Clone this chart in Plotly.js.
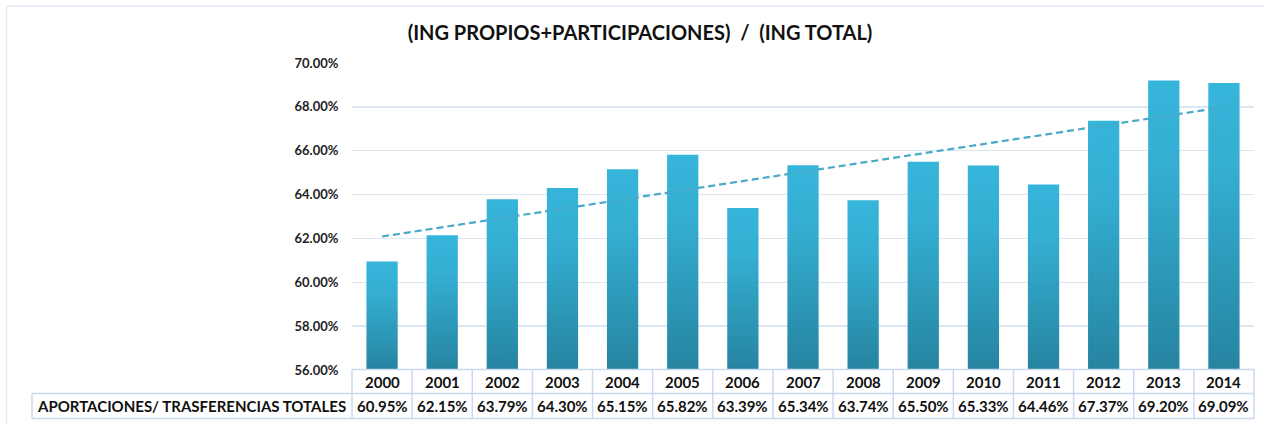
<!DOCTYPE html>
<html>
<head>
<meta charset="utf-8">
<script src="https://cdn.plot.ly/plotly-3.0.1.min.js"></script>
<style>
html,body{margin:0;padding:0;background:#fff;}
#chart{width:1270px;height:424px;}
#chart .barlayer .point path{fill:url(#barGrad) !important;}
</style>
</head>
<body>
<svg width="0" height="0" style="position:absolute;width:0;height:0">
  <defs>
    <linearGradient id="barGrad" x1="0" y1="0" x2="0" y2="1">
      <stop offset="0" stop-color="#36b5da"/>
      <stop offset="0.3" stop-color="#34aed2"/>
      <stop offset="1" stop-color="#2684a0"/>
    </linearGradient>
  </defs>
</svg>
<div id="chart"></div>
<script>
// ---- Data ----
const years = ["2000","2001","2002","2003","2004","2005","2006","2007","2008","2009","2010","2011","2012","2013","2014"];
const values = [60.95,62.15,63.79,64.30,65.15,65.82,63.39,65.34,63.74,65.50,65.33,64.46,67.37,69.20,69.09];
const rowLabel = "APORTACIONES/ TRASFERENCIAS TOTALES";
const chartTitle = "(ING PROPIOS+PARTICIPACIONES)  /  (ING TOTAL)";
const yTicks = [56,58,60,62,64,66,68,70];
const yMin = 56, yMax = 70;

// linear trend (least squares) from the data
const n = values.length;
const xs = values.map((_, i) => i);
const mx = xs.reduce((a,b)=>a+b,0)/n;
const my = values.reduce((a,b)=>a+b,0)/n;
let sxy = 0, sxx = 0;
for (let i=0;i<n;i++){ sxy += (xs[i]-mx)*(values[i]-my); sxx += (xs[i]-mx)*(xs[i]-mx); }
const slope = sxy/sxx, icpt = my - slope*mx;
const trendY = [icpt, icpt + slope*(n-1)];
const trendX = [years[0], years[n-1]];

// ---- Geometry helpers (pixel -> paper) ----
const W = 1270, H = 424;
const M = {l:352, r:16, t:63, b:54};
const PW = W - M.l - M.r, PH = H - M.t - M.b;
const px = x => (x - M.l)/PW;
const py = y => (H - M.b - y)/PH;

const FONT = "Lato, 'DejaVu Sans', sans-serif";
const border = "#c9daf0";

const traces = [
  {
    type: "bar",
    x: years,
    base: yMin,                          // bars start at the axis floor
    y: values.map(v => v - yMin),        // so bar tops land on the values
    marker: {color: "#31a6c8", line: {width: 0}},
    hoverinfo: "skip",
    showlegend: false
  },
  {
    type: "scatter",
    mode: "lines",
    x: trendX,
    y: trendY,
    line: {color: "#48aac8", width: 2.2, dash: "7px,4px"},
    hoverinfo: "skip",
    showlegend: false
  }
];

const annotations = [];
const rowHeadY = py(381.5), rowValY = py(406);
years.forEach((yr, i) => {
  const cx = px(M.l + (i + 0.5) * PW / n);
  annotations.push({xref:"paper", yref:"paper", x: cx, y: rowHeadY, text: "<b>"+yr+"</b>",
    showarrow:false, xanchor:"center", yanchor:"middle", font:{family:FONT, size:15, color:"#111"}});
  annotations.push({xref:"paper", yref:"paper", x: cx, y: rowValY, text: "<b>"+values[i].toFixed(2)+"%</b>",
    showarrow:false, xanchor:"center", yanchor:"middle", font:{family:FONT, size:15, color:"#111"}});
});
annotations.push({xref:"paper", yref:"paper", x: px(348), y: rowValY, text: "<b>"+rowLabel+"</b>",
  showarrow:false, xanchor:"right", yanchor:"middle", font:{family:FONT, size:15, color:"#111"}});

const shapes = [];
const yTop = py(369.5), yMid = py(393.5), yBot = py(418.5);
shapes.push({type:"line", xref:"paper", yref:"paper", x0:0, x1:1, y0:yTop, y1:yTop, line:{color:border, width:1.5}});
shapes.push({type:"line", xref:"paper", yref:"paper", x0:px(32), x1:1, y0:yMid, y1:yMid, line:{color:border, width:1.5}});
shapes.push({type:"line", xref:"paper", yref:"paper", x0:px(32), x1:1, y0:yBot, y1:yBot, line:{color:border, width:1.5}});
shapes.push({type:"line", xref:"paper", yref:"paper", x0:px(32), x1:px(32), y0:yMid, y1:yBot, line:{color:border, width:1.5}});
for (let i=0;i<=n;i++){
  const xx = i / n;
  shapes.push({type:"line", xref:"paper", yref:"paper", x0:xx, x1:xx, y0:yTop, y1:yBot, line:{color:border, width:1.5}});
}
// outer chart frame (left and top)
shapes.push({type:"line", xref:"paper", yref:"paper", x0:px(6.5), x1:px(6.5), y0:py(6), y1:py(424), line:{color:"#e2eaf5", width:1.5}});
shapes.push({type:"line", xref:"paper", yref:"paper", x0:px(6.5), x1:px(1264), y0:py(6), y1:py(6), line:{color:"#e2eaf5", width:1.5}});

const layout = {
  width: W, height: H,
  margin: M,
  paper_bgcolor: "#ffffff",
  plot_bgcolor: "#ffffff",
  bargap: 0.48,
  title: {
    text: "<b>"+chartTitle+"</b>",
    x: 640/W, xref: "container", xanchor: "center",
    y: 1 - 33/H, yref: "container", yanchor: "middle",
    font: {family: FONT, size: 20, color: "#111"}
  },
  xaxis: {
    type: "category",
    range: [-0.5, n-0.5],
    showticklabels: false,
    showgrid: false, zeroline: false, showline: false, ticks: ""
  },
  yaxis: {
    range: [yMin, yMax],
    tickvals: yTicks,
    ticktext: yTicks.map(v => "<b>"+v.toFixed(2)+"%</b>"),
    tickfont: {family: FONT, size: 13, color: "#222"},
    showgrid: true, gridcolor: "#dce6f2", gridwidth: 1.5,
    zeroline: false, showline: false,
    ticks: "outside", ticklen: 0, tickcolor: "rgba(0,0,0,0)",
    ticklabelstandoff: 10,
    fixedrange: true
  },
  showlegend: false,
  annotations: annotations,
  shapes: shapes
};

Plotly.newPlot("chart", traces, layout, {displayModeBar:false, staticPlot:true});
</script>
</body>
</html>
